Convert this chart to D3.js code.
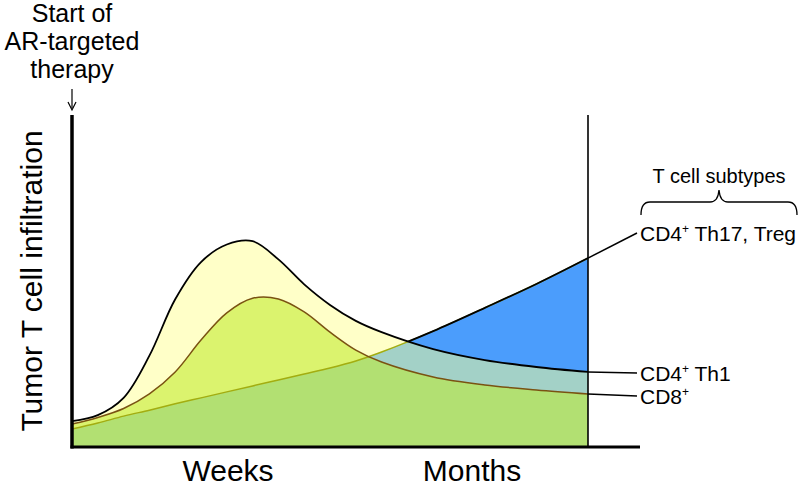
<!DOCTYPE html>
<html>
<head>
<meta charset="utf-8">
<script src="https://cdn.jsdelivr.net/npm/d3@7"></script>
<style>
  body { margin: 0; background: #fff; }
  text { font-family: "Liberation Sans", Arial, sans-serif; fill: #000; }
</style>
</head>
<body>
<script>
// time after start of therapy (arbitrary units) and relative infiltration levels
const time = [0, 5, 10, 15, 20, 25, 30, 35, 40, 45, 50, 55, 60, 70, 80, 90, 100];
const th1 = [7.8, 9.6, 14.8, 27.5, 44.5, 55.7, 61.0, 62.0, 56.5, 49.0, 42.8, 38.0, 34.6, 29.5, 26.2, 24.1, 22.6];
const cd8 = [6.9, 8.9, 11.6, 16.0, 22.6, 32.2, 40.4, 44.8, 44.6, 40.7, 34.6, 29.2, 25.6, 21.1, 18.7, 17.2, 16.0];
const th17 = [5.4, 7.2, 9.3, 11.1, 13.0, 14.8, 16.6, 18.4, 20.2, 22.0, 23.8, 25.9, 28.6, 34.9, 41.9, 49.1, 56.9];

const phaseLabels = ["Weeks", "Months"];
const subtypeLabels = [
    { base: "CD4", rest: " Th17, Treg", series: th17, y: 241 },
    { base: "CD4", rest: " Th1", series: th1, y: 381 },
    { base: "CD8", rest: "", series: cd8, y: 404 }
];

const width = 800;
const height = 489;

const svg = d3.select('body').append('svg')
    .attr('width', width)
    .attr('height', height);

const x = d3.scaleLinear().domain([0, 100]).range([72, 588]);
const y = d3.scaleLinear().domain([0, 100]).range([447, 115]);
const phase = d3.scalePoint().domain(phaseLabels).range([228, 472]);

const idx = d3.range(time.length);
const curve = d3.curveCatmullRom.alpha(0.5);

function areaOf(series) {
    return d3.area()
        .x(i => x(time[i]))
        .y0(y(0))
        .y1(i => y(series[i]))
        .curve(curve)(idx);
}
function lineOf(series) {
    return d3.line()
        .x(i => x(time[i]))
        .y(i => y(series[i]))
        .curve(curve)(idx);
}

const defs = svg.append("defs");
defs.append("clipPath").attr("id", "clip17")
    .append("path").attr("d", areaOf(th17));
// region above the Th1 curve
defs.append("clipPath").attr("id", "clipAbove1")
    .append("path").attr("d", d3.area()
        .x(i => x(time[i]))
        .y0(y(100))
        .y1(i => y(th1[i]))
        .curve(curve)(idx));

// stacked fills
svg.append("path").attr("d", areaOf(th1)).attr("fill", "#ffffc8");
svg.append("path").attr("d", areaOf(cd8)).attr("fill", "#dbf36e");

const inner = svg.append("g").attr("clip-path", "url(#clip17)");
inner.append("path").attr("d", areaOf(th17)).attr("fill", "#4b9dfc");
inner.append("path").attr("d", areaOf(th1)).attr("fill", "#a3d1c7");
inner.append("path").attr("d", areaOf(cd8)).attr("fill", "#b2e072");

// outlines
svg.append("path").attr("d", lineOf(th17))
    .attr("fill", "none").attr("stroke", "#a3ad10").attr("stroke-width", 1.5);
svg.append("path").attr("d", lineOf(th17)).attr("clip-path", "url(#clipAbove1)")
    .attr("fill", "none").attr("stroke", "#000").attr("stroke-width", 1.8);
svg.append("path").attr("d", lineOf(cd8))
    .attr("fill", "none").attr("stroke", "#7a5212").attr("stroke-width", 1.5);
svg.append("path").attr("d", lineOf(th1))
    .attr("fill", "none").attr("stroke", "#000").attr("stroke-width", 1.8);

// axes
svg.append("line")
    .attr("x1", x(0)).attr("x2", x(0)).attr("y1", y(100)).attr("y2", y(0) + 1.5)
    .attr("stroke", "#000").attr("stroke-width", 3.5);
svg.append("line")
    .attr("x1", x(0) - 1.5).attr("x2", 640).attr("y1", y(0)).attr("y2", y(0))
    .attr("stroke", "#000").attr("stroke-width", 3);
svg.append("line")
    .attr("x1", x(100)).attr("x2", x(100)).attr("y1", y(100)).attr("y2", y(0))
    .attr("stroke", "#000").attr("stroke-width", 1.6);

svg.selectAll(".phase")
    .data(phaseLabels)
    .enter().append("text")
    .attr("class", "phase")
    .attr("x", d => phase(d))
    .attr("y", 481)
    .attr("text-anchor", "middle")
    .attr("font-size", 30)
    .text(d => d);

svg.append("text")
    .attr("transform", "translate(42," + ((y(100) + y(0)) / 2) + ") rotate(-90)")
    .attr("text-anchor", "middle")
    .attr("font-size", 30)
    .text("Tumor T cell infiltration");

// therapy start annotation
const startLines = ["Start of", "AR-targeted", "therapy"];
svg.selectAll(".start")
    .data(startLines)
    .enter().append("text")
    .attr("class", "start")
    .attr("x", 72)
    .attr("y", (_, i) => 22 + i * 28)
    .attr("text-anchor", "middle")
    .attr("font-size", 25)
    .text(d => d);
svg.append("line")
    .attr("x1", 72).attr("x2", 72).attr("y1", 89).attr("y2", 108)
    .attr("stroke", "#000").attr("stroke-width", 1.2);
svg.append("path")
    .attr("d", "M68,102 L72,110 L76,102")
    .attr("fill", "none").attr("stroke", "#000").attr("stroke-width", 1.2);

// leader lines and subtype labels
subtypeLabels.forEach(s => {
    const last = s.series[s.series.length - 1];
    svg.append("line")
        .attr("x1", x(100)).attr("y1", y(last))
        .attr("x2", 637).attr("y2", s.y - 8)
        .attr("stroke", "#000").attr("stroke-width", 1.5);
    const t = svg.append("text")
        .attr("x", 640).attr("y", s.y)
        .attr("font-size", 21);
    t.append("tspan").text(s.base);
    t.append("tspan").attr("font-size", 12).attr("dy", -8).text("+");
    t.append("tspan").attr("dy", 8).text(s.rest);
});

svg.append("text")
    .attr("x", 719).attr("y", 183)
    .attr("text-anchor", "middle")
    .attr("font-size", 20)
    .text("T cell subtypes");

svg.append("path")
    .attr("d", "M641,215 Q641,202 650,202 L710,202 Q718,202 719,190 Q720,202 728,202 L788,202 Q797,202 797,215")
    .attr("fill", "none").attr("stroke", "#000").attr("stroke-width", 1.3);
</script>
</body>
</html>
